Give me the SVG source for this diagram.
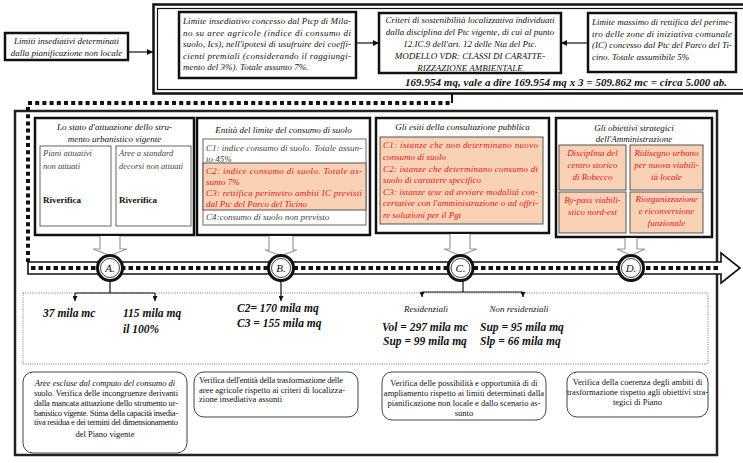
<svg xmlns="http://www.w3.org/2000/svg" width="743" height="463" viewBox="0 0 743 463">
<defs>
  <marker id="ah" viewBox="0 0 10 10" refX="10" refY="5" markerWidth="7" markerHeight="6" markerUnits="userSpaceOnUse" orient="auto">
    <path d="M0,0 L10,5 L0,10 z" fill="#111"/>
  </marker>
  <marker id="ahs" viewBox="0 0 10 10" refX="10" refY="5" markerWidth="5" markerHeight="5" markerUnits="userSpaceOnUse" orient="auto">
    <path d="M0,0 L10,5 L0,10 z" fill="#111"/>
  </marker>
</defs>
<style>
  text { font-family: "Liberation Serif", "Times New Roman", serif; fill: #111; }
  .i { font-style: italic; }
  .b { font-weight: bold; }
  .bi { font-weight: bold; font-style: italic; }
  .s9 { font-size: 9px; }
  .s85 { font-size: 8.5px; }
  .val { font-size: 11.5px; font-weight: bold; font-style: italic; }
  .red { fill: #e3161d; }
  .grey { fill: #444; }
  .box { fill: #fff; stroke: #111; stroke-width: 2.5; }
  .peach { fill: #f9d1b5; stroke: #555; stroke-width: 1; }
  .thin { fill: #fff; stroke: #666; stroke-width: 1; }
  .note { fill: #fff; stroke: #444; stroke-width: 1; }
  .dots { fill: none; stroke: #111; stroke-width: 4; stroke-dasharray: 4 3.2; }
  .blk { fill: #fff; stroke: #9a9a9a; stroke-width: 1.2; }
  .ln { fill: none; stroke: #111; stroke-width: 1.2; }
  .c { text-anchor: middle; }
</style>
<rect width="743" height="463" fill="#fff"/>

<!-- upper section: external limits -->
<g id="quadro-limiti">
  <rect x="153.5" y="4.5" width="600" height="89" fill="none" stroke="#111" stroke-width="2.5"/>
  <rect x="157.5" y="8.5" width="600" height="81" fill="none" stroke="#111" stroke-width="1.2"/>
  <text class="bi" x="405" y="86" font-size="11" textLength="322">169.954 mq, vale a dire 169.954 mq x 3 = 509.862 mc = circa 5.000 ab.</text>
</g>

<g id="limiti-non-locali">
  <rect x="5" y="33" width="123" height="27" class="box" stroke-width="2"/>
  <text class="i s9 c" x="66.5" y="44">Limiti insediativi determinati</text>
  <text class="i s9 c" x="66.5" y="56">dalla pianificazione non locale</text>
</g>

<g id="limite-ptcp">
  <rect x="179" y="12" width="177" height="66" class="box"/>
  <text class="i s9" x="183" y="24" textLength="168">Limite insediativo concesso dal Ptcp di Mila-</text>
  <text class="i s9" x="183" y="35.5" textLength="168">no su aree agricole (indice di consumo di</text>
  <text class="i s9" x="183" y="47" textLength="168">suolo, Ics), nell'ipotesi di usufruire dei coeffi-</text>
  <text class="i s9" x="183" y="58.5" textLength="168">cienti premiali (considerando il raggiungi-</text>
  <text class="i s9" x="183" y="70">mento del 3%). Totale assunto 7%.</text>
</g>

<g id="criteri-ptc">
  <rect x="379" y="13" width="182" height="60" class="box"/>
  <text class="i s9 c" x="470" y="23">Criteri di sostenibilità localizzativa individuati</text>
  <text class="i s9 c" x="470" y="35">dalla disciplina del Ptc vigente, di cui al punto</text>
  <text class="i s9 c" x="470" y="47">12.IC.9 dell'art. 12 delle Nta del Ptc.</text>
  <text class="i s9 c" x="470" y="59">MODELLO VDR: CLASSI DI CARATTE-</text>
  <text class="i s9 c" x="470" y="70.5">RIZZAZIONE  AMBIENTALE</text>
</g>

<g id="limite-parco">
  <rect x="588" y="13" width="148" height="59" class="box" stroke-width="2"/>
  <text class="i s9" x="592" y="25" textLength="140">Limite massimo di rettifica del perime-</text>
  <text class="i s9" x="592" y="36.5" textLength="140">tro delle zone di iniziativa comunale</text>
  <text class="i s9" x="592" y="48" textLength="140">(IC) concesso dal Ptc del Parco del Ti-</text>
  <text class="i s9" x="592" y="59.5">cino. Totale assumibile 5%</text>
</g>

<!-- lower section frame and dotted path -->
<g id="cornice">
  <rect x="15" y="111" width="702" height="344" fill="none" stroke="#222" stroke-width="2.5"/>
  <path class="dots" d="M28,103 H452 M28,107 V262"/>
  <line x1="452" y1="93" x2="452" y2="103" stroke="#111" stroke-width="2"/>
  <rect x="23" y="293" width="685" height="71" fill="none" stroke="#777" stroke-width="1" stroke-dasharray="1 1.3"/>
</g>

<!-- panel A -->
<g id="pannello-a">
  <rect x="35" y="118" width="159" height="117" class="box"/>
  <text class="i s9 c" x="114.5" y="130">Lo stato d'attuazione dello stru-</text>
  <text class="i s9 c" x="114.5" y="142">mento urbanistico vigente</text>
  <rect x="40" y="146" width="71" height="80" class="thin"/>
  <rect x="116" y="146" width="75" height="80" class="thin"/>
  <text class="i s85 grey" x="43" y="156">Piani attuativi</text>
  <text class="i s85 grey" x="43" y="169">non attuati</text>
  <text class="i s85 grey" x="119" y="156">Aree a standard</text>
  <text class="i s85 grey" x="119" y="169">decorsi non attuati</text>
  <text class="b s9" x="43" y="203">Riverifica</text>
  <text class="b s9" x="119" y="203">Riverifica</text>
</g>

<!-- panel B -->
<g id="pannello-b">
  <rect x="197" y="118" width="173" height="117" class="box"/>
  <text class="i s9 c" x="283.5" y="133">Entità del limite del consumo di suolo</text>
  <rect x="203" y="139" width="163" height="86" class="thin"/>
  <text class="i s9 grey" x="206" y="151" textLength="156">C1: indice consumo di suolo. Totale assun-</text>
  <text class="i s9 grey" x="206" y="162">to 45%</text>
  <rect x="203" y="163" width="163" height="47" class="peach"/>
  <text class="i s9 red" x="206" y="174" textLength="156">C2: indice consumo di suolo. Totale as-</text>
  <text class="i s9 red" x="206" y="184.5">sunto 7%</text>
  <text class="i s9 red" x="206" y="195.5" textLength="156">C3: rettifica perimetro ambiti IC previsti</text>
  <text class="i s9 red" x="206" y="206.5">dal Ptc del Parco del Ticino</text>
  <text class="i s9 grey" x="206" y="220">C4:consumo di suolo non previsto</text>
</g>

<!-- panel C -->
<g id="pannello-c">
  <rect x="376" y="118" width="173" height="115" class="box"/>
  <text class="i s9 c" x="462.5" y="130">Gli esiti della consultazione pubblica</text>
  <rect x="380" y="137" width="163" height="87" class="peach"/>
  <text class="i s9 red" x="383" y="148" textLength="155">C1: istanze che non determinano nuovo</text>
  <text class="i s9 red" x="383" y="160">consumo di suolo</text>
  <text class="i s9 red" x="383" y="171.5" textLength="155">C2: istanze che determinano consumo di</text>
  <text class="i s9 red" x="383" y="183">suolo di carattere specifico</text>
  <text class="i s9 red" x="383" y="194.5" textLength="155">C3: istanze tese ad avviare modalità con-</text>
  <text class="i s9 red" x="383" y="206" textLength="155">certative con l'amministrazione o ad offri-</text>
  <text class="i s9 red" x="383" y="217.5">re soluzioni per il Pgt</text>
</g>

<!-- panel D -->
<g id="pannello-d">
  <rect x="556" y="118" width="156" height="119" class="box"/>
  <text class="i s9 c" x="634" y="131">Gli obiettivi strategici</text>
  <text class="i s9 c" x="634" y="141.5">dell'Amministrazione</text>
  <rect x="559" y="145" width="67" height="45" class="peach"/>
  <rect x="630" y="145" width="73" height="45" class="peach"/>
  <rect x="559" y="192" width="67" height="41" class="peach"/>
  <rect x="630" y="192" width="73" height="41" class="peach"/>
  <text class="i s9 red c" x="592.5" y="156">Disciplina del</text>
  <text class="i s9 red c" x="592.5" y="168">centro storico</text>
  <text class="i s9 red c" x="592.5" y="180">di Robecco</text>
  <text class="i s9 red c" x="666.5" y="156">Ridisegno urbano</text>
  <text class="i s9 red c" x="666.5" y="168">per nuova viabili-</text>
  <text class="i s9 red c" x="666.5" y="180">tà locale</text>
  <text class="i s9 red c" x="592.5" y="203">By-pass viabili-</text>
  <text class="i s9 red c" x="592.5" y="215">stico nord-est</text>
  <text class="i s9 red c" x="666.5" y="202">Riorganizzazione</text>
  <text class="i s9 red c" x="666.5" y="214">e riconversione</text>
  <text class="i s9 red c" x="666.5" y="226">funzionale</text>
</g>

<!-- timeline band -->
<g id="linea-tempo">
  <path d="M28,262 H721 V253 L740,268 L721,283 V274 H28 Z" fill="#fff" stroke="#111" stroke-width="1.6"/>
  <line x1="31" y1="268" x2="718" y2="268" stroke="#111" stroke-width="4" stroke-dasharray="4.5 3"/>
</g>

<!-- connectors -->
<g id="connettori">
  <line x1="128" y1="52" x2="153" y2="52" class="ln" marker-end="url(#ah)"/>
  <line x1="356" y1="43" x2="379" y2="43" class="ln" marker-end="url(#ah)"/>
  <line x1="588" y1="43" x2="561" y2="43" class="ln" marker-end="url(#ah)"/>
  <path class="blk" d="M100,236 V249 H93 L110,255.5 L127,249 H120 V236"/>
  <path class="blk" d="M269,236 V250 H265 L281,255.5 L297,250 H293 V236"/>
  <path class="blk" d="M450,234 V249 H444 L460,255.5 L477,249 H470 V234"/>
  <path class="blk" d="M625,238 V249 H617 L631,255.5 L645,249 H637 V238"/>
  <path class="ln" d="M110,281 V293 M75,293 H155"/>
  <line x1="75" y1="293" x2="75" y2="301" class="ln" marker-end="url(#ahs)"/>
  <line x1="155" y1="293" x2="155" y2="301" class="ln" marker-end="url(#ahs)"/>
  <line x1="281" y1="281" x2="281" y2="301" class="ln" marker-end="url(#ahs)"/>
  <path class="ln" d="M463,281 V292 M422,292 H523"/>
  <line x1="422" y1="292" x2="422" y2="297" class="ln" marker-end="url(#ahs)"/>
  <line x1="523" y1="292" x2="523" y2="297" class="ln" marker-end="url(#ahs)"/>
</g>

<!-- milestones -->
<g id="tappa-a">
  <circle cx="110" cy="268" r="12.5" fill="#fff" stroke="#111" stroke-width="3"/>
  <circle cx="110" cy="268" r="9.5" fill="none" stroke="#111" stroke-width="0.8"/>
  <text class="i" x="110" y="272" font-size="11" text-anchor="middle">A.</text>
</g>
<g id="tappa-b">
  <circle cx="281" cy="268" r="12.5" fill="#fff" stroke="#111" stroke-width="3"/>
  <circle cx="281" cy="268" r="9.5" fill="none" stroke="#111" stroke-width="0.8"/>
  <text class="i" x="281" y="272" font-size="11" text-anchor="middle">B.</text>
</g>
<g id="tappa-c">
  <circle cx="460.5" cy="268" r="12.5" fill="#fff" stroke="#111" stroke-width="3"/>
  <circle cx="460.5" cy="268" r="9.5" fill="none" stroke="#111" stroke-width="0.8"/>
  <text class="i" x="460.5" y="272" font-size="11" text-anchor="middle">C.</text>
</g>
<g id="tappa-d">
  <circle cx="631" cy="268" r="12.5" fill="#fff" stroke="#111" stroke-width="3"/>
  <circle cx="631" cy="268" r="9.5" fill="none" stroke="#111" stroke-width="0.8"/>
  <text class="i" x="631" y="272" font-size="11" text-anchor="middle">D.</text>
</g>

<!-- quantities -->
<g id="valori-a">
  <text class="val" x="43" y="317">37 mila mc</text>
  <text class="val" x="123" y="317">115 mila mq</text>
  <text class="val" x="123" y="333">il 100%</text>
</g>
<g id="valori-b">
  <text class="val" x="237" y="312">C2= 170 mila mq</text>
  <text class="val" x="237" y="327">C3 = 155 mila mq</text>
</g>
<g id="valori-c">
  <text class="i s9 c" x="426" y="312">Residenziali</text>
  <text class="i s9 c" x="519" y="312">Non residenziali</text>
  <text class="val" x="382" y="331">Vol = 297 mila mc</text>
  <text class="val" x="383" y="345">Sup = 99 mila mq</text>
  <text class="val" x="480" y="331">Sup = 95 mila mq</text>
  <text class="val" x="480" y="345">Slp = 66 mila mq</text>
</g>

<!-- notes -->
<g id="nota-a">
  <rect x="23" y="372" width="164" height="81" rx="10" class="note"/>
  <text class="i s85 c" x="105" y="386">Aree escluse dal computo del consumo di</text>
  <text class="s85" x="34" y="396" textLength="144">suolo. Verifica delle incongruenze derivanti</text>
  <text class="s85" x="34" y="406" textLength="144">dalla mancata attuazione dello strumento ur-</text>
  <text class="s85" x="34" y="415.5" textLength="144">banistico vigente. Stima della capacità insedia-</text>
  <text class="s85" x="34" y="425" textLength="144">tiva residua e dei termini del dimensionamento</text>
  <text class="s85 c" x="105" y="437">del Piano vigente</text>
</g>
<g id="nota-b">
  <rect x="194" y="372" width="164" height="45" rx="10" class="note"/>
  <text class="s85" x="199" y="383" textLength="144">Verifica dell'entità della trasformazione delle</text>
  <text class="s85" x="199" y="392.5" textLength="146">aree agricole rispetto ai criteri di localizza-</text>
  <text class="s85" x="199" y="402">zione insediativa assunti</text>
</g>
<g id="nota-c">
  <rect x="382" y="372" width="164" height="48" rx="10" class="note"/>
  <text class="s85 c" x="464" y="386">Verifica delle possibilità e opportunità di di</text>
  <text class="s85 c" x="464" y="396">ampliamento rispetto ai limiti determinati dalla</text>
  <text class="s85 c" x="464" y="406">pianificazione non locale e dallo scenario as-</text>
  <text class="s85 c" x="464" y="416">sunto</text>
</g>
<g id="nota-d">
  <rect x="567" y="372" width="141" height="45" rx="10" class="note"/>
  <text class="s85 c" x="637.5" y="385">Verifica della coerenza degli ambiti di</text>
  <text class="s85 c" x="637.5" y="395">trasformazione rispetto agli obiettivi stra-</text>
  <text class="s85 c" x="637.5" y="405">tegici di Piano</text>
</g>
</svg>
